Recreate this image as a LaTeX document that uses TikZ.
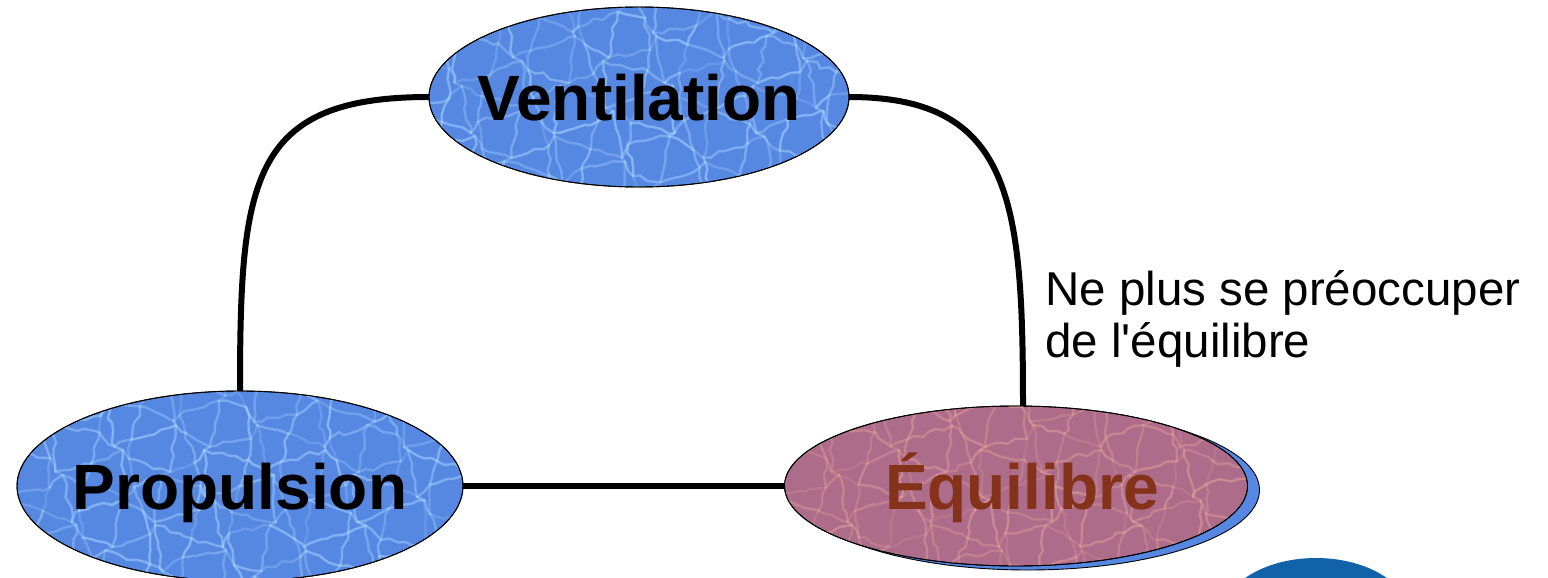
\documentclass[tikz,border=0pt]{standalone}
\usepackage{fontspec}
\setmainfont{Liberation Sans}
\usetikzlibrary{shapes.geometric,decorations.pathmorphing,calc}
\definecolor{bluefill}{RGB}{86,136,226}
\definecolor{bluelight}{RGB}{165,210,255}
\definecolor{mauvefill}{RGB}{172,108,138}
\definecolor{mauvelight}{RGB}{226,158,152}
\definecolor{brownt}{RGB}{132,50,26}
\definecolor{logoblue}{RGB}{18,98,170}
\newcommand\watertex[5]{%
  \begin{scope}
    \clip (#1,#2) ellipse [x radius=#3, y radius=#4];
    \foreach \wi in {-10,...,9} {
      \foreach \wj in {-5,...,4} {
        \pgfmathsetmacro\wax{#1+\wi*25+11*sin(\wi*127+\wj*311)}
        \pgfmathsetmacro\way{#2+\wj*25+11*sin(\wi*269+\wj*173)}
        \pgfmathsetmacro\wbx{#1+(\wi+1)*25+11*sin((\wi+1)*127+\wj*311)}
        \pgfmathsetmacro\wby{#2+\wj*25+11*sin((\wi+1)*269+\wj*173)}
        \pgfmathsetmacro\wcx{#1+\wi*25+11*sin(\wi*127+(\wj+1)*311)}
        \pgfmathsetmacro\wcy{#2+(\wj+1)*25+11*sin(\wi*269+(\wj+1)*173)}
        \pgfmathsetmacro\wop{0.2+0.4*rnd}
        \draw[line width=2.4pt, #5, opacity=\wop, line cap=round,
              decorate, decoration={random steps, segment length=8, amplitude=2.5}]
              (\wax,\way) -- (\wbx,\wby);
        \pgfmathsetmacro\wop{0.2+0.4*rnd}
        \draw[line width=2.4pt, #5, opacity=\wop, line cap=round,
              decorate, decoration={random steps, segment length=8, amplitude=2.5}]
              (\wax,\way) -- (\wcx,\wcy);
      }
    }
  \end{scope}}
\begin{document}
\begin{tikzpicture}[x=1pt,y=-1pt,
  bubble/.style={ellipse, draw=black, line width=0.9pt, inner sep=0pt,
     text height=47pt, text depth=0pt,
     font=\fontsize{64}{72}\selectfont\bfseries},
  link/.style={line width=6pt, black},
  note/.style={anchor=base west, inner sep=0pt, font=\fontsize{47.5}{53}\selectfont}]
\useasboundingbox (0,0) rectangle (1548,578);
\clip (0,0) rectangle (1548,578);
\pgfmathsetseed{7}

% logo fragment
\fill[logoblue] (1316,618) ellipse [x radius=95, y radius=60];

% connectors (behind the ellipses)
\coordinate (vw) at (429,97);
\coordinate (ve) at (849,97);
\coordinate (pn) at (240,392);
\coordinate (en) at (1023,407);
\coordinate (pe) at (462,486);
\coordinate (ew) at (786,486);
\draw[link] (vw) .. controls (250,97) and (240,180) .. (pn);
\draw[link] (ve) .. controls (1012,97) and (1023,200) .. (en);
\draw[link] (pe) -- (ew);

% Ventilation
\node[bubble, fill=bluefill, minimum width=420pt, minimum height=180pt] (vent) at (639,97) {};
\watertex{639}{97}{210}{90}{bluelight}
\draw[line width=0.9pt] (639,97) ellipse [x radius=210, y radius=90];
\node[bubble, draw=none, fill=none] (ventt) at (vent.center) {Ventilation};

% Propulsion
\node[bubble, fill=bluefill, minimum width=446pt, minimum height=190pt] (prop) at (240,486) {};
\watertex{240}{486}{223}{95}{bluelight}
\draw[line width=0.9pt] (240,486) ellipse [x radius=223, y radius=95];
\node[bubble, draw=none, fill=none] (propt) at (prop.center) {Propulsion};

% Equilibre with shadow
\node[bubble, fill=bluefill, minimum width=463pt, minimum height=160pt] (equis) at (1028,490) {};
\node[bubble, fill=mauvefill, minimum width=463pt, minimum height=160pt] (equi) at (1016,486) {};
\watertex{1016}{486}{231.5}{80}{mauvelight}
\draw[line width=0.9pt] (1016,486) ellipse [x radius=231.5, y radius=80];
\node[bubble, draw=none, fill=none, text=brownt] (equit) at (1022,486) {Équilibre};

% note
\node[note] (n1) at (1045,305) {Ne plus se préoccuper};
\node[note] (n2) at (1045,357) {de l\textquotesingle équilibre};
\end{tikzpicture}
\end{document}
